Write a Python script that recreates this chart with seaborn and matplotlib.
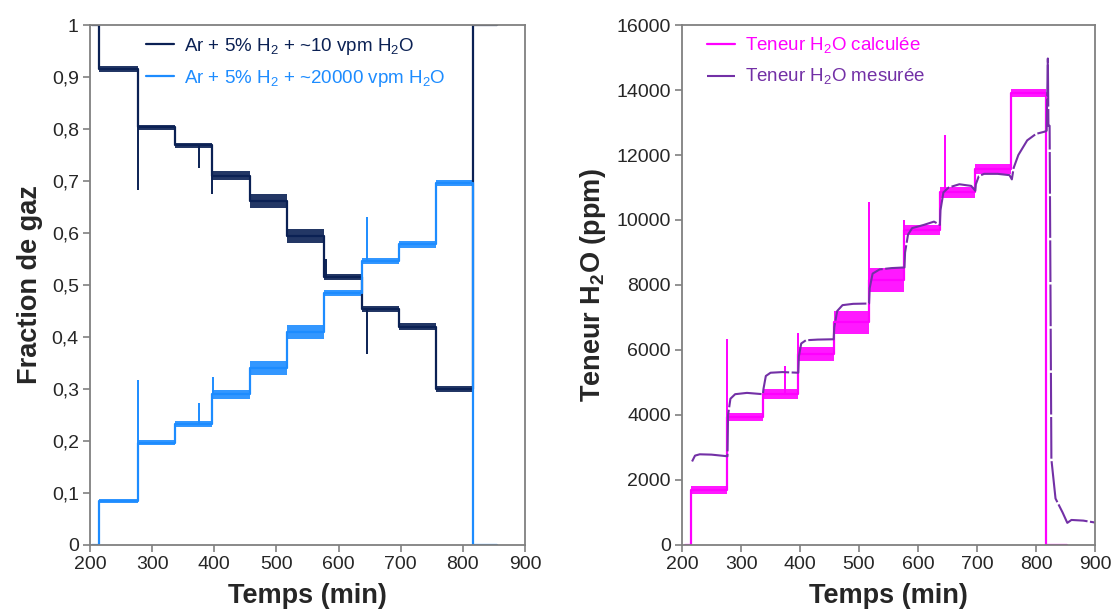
import numpy as np
import pandas as pd
import matplotlib
matplotlib.use("Agg")
import matplotlib.pyplot as plt
import seaborn as sns
from matplotlib.ticker import FuncFormatter, MultipleLocator

# --- left panel: gas fractions (step plateaus) ---
EDGES = [203, 215, 277, 337, 397, 457, 517, 577, 637, 697, 757, 817, 855]
DRY_LEVEL = [1.0, 0.915, 0.803, 0.769, 0.71, 0.662, 0.594, 0.515, 0.454, 0.42, 0.30, 1.0]
DRY_JIT = [0, 0.006, 0.004, 0.005, 0.009, 0.013, 0.013, 0.006, 0.006, 0.006, 0.006, 0]
WET_LEVEL = [0.0, 0.085, 0.197, 0.233, 0.29, 0.34, 0.41, 0.484, 0.546, 0.578, 0.696, 0.0]
WET_JIT = [0, 0.004, 0.004, 0.006, 0.009, 0.013, 0.013, 0.006, 0.006, 0.006, 0.006, 0]
DRY_SPIKES = [(277, 0.682), (375, 0.725), (397, 0.675), (579, 0.55), (645, 0.368)]
WET_SPIKES = [(277, 0.317), (375, 0.274), (398, 0.323), (645, 0.63)]

# --- right panel: water content ---
CALC_EDGES = [205, 216, 277, 337, 397, 457, 517, 577, 637, 697, 757, 817, 853]
CALC_LEVEL = [0, 1700, 3940, 4650, 5870, 6850, 8150, 9690, 10850, 11560, 13900, 0]
CALC_JIT = [0, 120, 120, 150, 220, 350, 380, 160, 160, 150, 120, 0]
CALC_SPIKES = [(277, 6350), (375, 5510), (397, 6530), (517, 10560), (577, 10000), (645, 12615)]

MEAS_T = [217, 222, 230, 250, 277, 278, 282, 290, 310, 337, 338, 342, 350, 370, 397,
          398, 402, 410, 430, 457, 458, 463, 472, 490, 517, 518, 523, 535, 555, 577,
          578, 583, 590, 610, 627, 637, 638, 643, 652, 670, 690, 697, 698, 703, 712,
          735, 755, 759, 762, 770, 785, 800, 815, 818, 820, 821, 823, 826, np.nan,
          833, 845, 853, 860, 880, 900]
MEAS_V = [2570, 2750, 2790, 2780, 2730, 4000, 4500, 4640, 4680, 4640, 4800, 5200, 5300, 5320, 5300,
          5800, 6200, 6300, 6320, 6330, 6700, 7200, 7380, 7420, 7430, 7900, 8350, 8480, 8520, 8540,
          9000, 9550, 9750, 9850, 9950, 9850, 10300, 10850, 11000, 11100, 11050, 10900, 11100, 11350, 11420,
          11420, 11380, 11250, 11600, 12000, 12450, 12650, 12720, 12750, 14970, 12900, 12900, 2640, np.nan,
          1430, 1000, 680, 770, 750, 690]

DARK = "#0b2154"
LIGHT = "#1d8cff"
MAGENTA = "#ff00ff"
PURPLE = "#7330a6"
GREY = "#808080"


def step_frame(edges, levels):
    # turn plateau edges/levels into a polyline table
    xs, ys = [], []
    for i, lv in enumerate(levels):
        xs += [edges[i], edges[i + 1]]
        ys += [lv, lv]
    return pd.DataFrame({"t": xs, "v": ys})


def draw_steps(ax, edges, levels, jit, spikes, color, label):
    df = step_frame(edges, levels)
    sns.lineplot(data=df, x="t", y="v", ax=ax, color=color, lw=1.6,
                 estimator=None, sort=False, label=label)
    lv = np.array(levels + [levels[-1]], dtype=float)
    jv = np.array(jit + [jit[-1]], dtype=float)
    ax.fill_between(edges, lv - jv, lv + jv, step="post", color=color,
                    alpha=0.9, lw=0)
    for t, s in spikes:
        base = levels[np.searchsorted(edges, t, side="right") - 1]
        ax.vlines(t, min(base, s), max(base, s), color=color, lw=1.4)


sns.set_theme(style="white")
plt.rcParams["font.family"] = ["Liberation Sans", "DejaVu Sans"]
plt.rcParams["mathtext.fontset"] = "custom"
plt.rcParams["mathtext.rm"] = "Liberation Sans"
plt.rcParams["mathtext.bf"] = "Liberation Sans:bold"

fig = plt.figure(figsize=(11.15, 6.16), dpi=100)
ax1 = fig.add_axes([0.0807, 0.1153, 0.3902, 0.8441])
ax2 = fig.add_axes([0.6117, 0.1153, 0.3704, 0.8441])

draw_steps(ax1, EDGES, DRY_LEVEL, DRY_JIT, DRY_SPIKES, DARK,
           "Ar + 5% H$_2$ + ~10 vpm H$_2$O")
draw_steps(ax1, EDGES, WET_LEVEL, WET_JIT, WET_SPIKES, LIGHT,
           "Ar + 5% H$_2$ + ~20000 vpm H$_2$O")

draw_steps(ax2, CALC_EDGES, CALC_LEVEL, CALC_JIT, CALC_SPIKES, MAGENTA,
           "Teneur H$_2$O calculée")
meas = pd.DataFrame({"t": MEAS_T, "v": MEAS_V})
sns.lineplot(data=meas, x="t", y="v", ax=ax2, color=PURPLE, lw=1.5,
             estimator=None, sort=False, label="Teneur H$_2$O mesurée",
             linestyle=(0, (20, 1.2)))

ax1.set_ylim(0, 1)
ax1.yaxis.set_major_locator(MultipleLocator(0.1))
ax1.yaxis.set_major_formatter(FuncFormatter(lambda v, p: f"{v:.1f}".replace(".", ",").replace(",0", "")))
ax1.set_ylabel("Fraction de gaz", fontsize=19.5, fontweight="bold", labelpad=6)

ax2.set_ylim(0, 16000)
ax2.yaxis.set_major_locator(MultipleLocator(2000))
ax2.set_ylabel("Teneur H$_\\mathbf{2}$O (ppm)", fontsize=19.5, fontweight="bold", labelpad=6)

for ax in (ax1, ax2):
    ax.set_xlim(200, 900)
    ax.xaxis.set_major_locator(MultipleLocator(100))
    ax.set_xlabel("Temps (min)", fontsize=19.5, fontweight="bold", labelpad=7)
    ax.tick_params(axis="both", labelsize=14, direction="out", length=5,
                   width=1.2, color=GREY, bottom=True, left=True, pad=3)
    for sp in ax.spines.values():
        sp.set_color(GREY)
        sp.set_linewidth(1.3)
    ax.grid(False)

leg1 = ax1.legend(loc="upper left", bbox_to_anchor=(0.09, 1.012), frameon=False,
                  fontsize=13.5, handlelength=1.5, handletextpad=0.5, labelspacing=0.6)
for txt, c in zip(leg1.get_texts(), [DARK, LIGHT]):
    txt.set_color(c)
leg2 = ax2.legend(loc="upper left", bbox_to_anchor=(0.02, 1.012), frameon=False,
                  fontsize=13.5, handlelength=1.5, handletextpad=0.5, labelspacing=0.6)
for txt, c in zip(leg2.get_texts(), [MAGENTA, PURPLE]):
    txt.set_color(c)

fig.savefig("out.png", dpi=100)
